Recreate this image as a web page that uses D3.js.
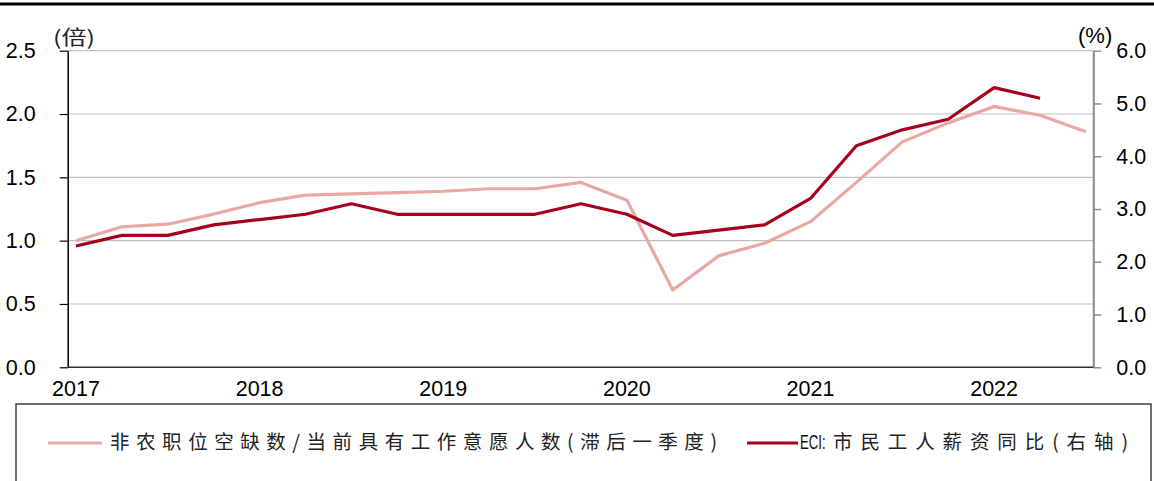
<!DOCTYPE html>
<html><head><meta charset="utf-8">
<script src="https://cdn.jsdelivr.net/npm/d3@7"></script>
<style>body{margin:0;background:#fff}svg{display:block}</style>
</head><body><svg id="c" width="1154" height="481"></svg>
<script>
const quarters = ["2017Q1","2017Q2","2017Q3","2017Q4","2018Q1","2018Q2","2018Q3","2018Q4","2019Q1","2019Q2","2019Q3","2019Q4","2020Q1","2020Q2","2020Q3","2020Q4","2021Q1","2021Q2","2021Q3","2021Q4","2022Q1","2022Q2","2022Q3"];
const yearTicks = ["2017","2018","2019","2020","2021","2022"];
const vacancyRatio = [1.00,1.11,1.13,1.21,1.30,1.36,1.37,1.38,1.39,1.41,1.41,1.46,1.32,0.61,0.88,0.98,1.15,1.46,1.78,1.93,2.06,1.99,1.86];
const eciYoY = [2.3,2.5,2.5,2.7,2.8,2.9,3.1,2.9,2.9,2.9,2.9,3.1,2.9,2.5,2.6,2.7,3.2,4.2,4.5,4.7,5.3,5.1];
const leftTicks = [0,0.5,1.0,1.5,2.0,2.5];
const rightTicks = [0,1,2,3,4,5,6];
const seriesNames = ["非农职位空缺数/当前具有工作意愿人数(滞后一季度)","ECI:市民工人薪资同比(右轴)"];
const colors = ["#E9A8A6","#A6001E"];

const svg = d3.select("#c");
const L = 67.7, R = 1093.3, T = 50.7, B = 367.3;
const x = d3.scaleLinear().domain([-0.18, 22.16]).range([L, R]);
const yL = d3.scaleLinear().domain([0, 2.5]).range([B, T]);
const yR = d3.scaleLinear().domain([0, 6]).range([B, T]);
const numFont = "'Liberation Sans', Arial, sans-serif";
const cjkFont = "'Noto Sans CJK SC', sans-serif";

// top border
svg.append("line").attr("x1",0).attr("x2",1154).attr("y1",4).attr("y2",4)
  .attr("stroke","#000").attr("stroke-width",3);

// gridlines
svg.append("g").selectAll("line").data(leftTicks.filter(d=>d>0)).join("line")
  .attr("x1",L).attr("x2",R).attr("y1",d=>yL(d)).attr("y2",d=>yL(d))
  .attr("stroke","#bfbfbf").attr("stroke-width",1.2);

// left axis
const gL = svg.append("g").attr("transform",`translate(${L},0)`)
  .call(d3.axisLeft(yL).tickValues(leftTicks).tickFormat(d3.format(".1f")).tickSizeInner(8).tickSizeOuter(0).tickPadding(24));
gL.select(".domain").attr("stroke","#000").attr("stroke-width",1.5);
gL.selectAll(".tick line").attr("stroke","#000").attr("stroke-width",1.2);
gL.selectAll(".tick text").attr("font-family",numFont).attr("font-size",21.5).attr("fill","#000");

// right axis
const gR = svg.append("g").attr("transform",`translate(${R},0)`)
  .call(d3.axisRight(yR).tickValues(rightTicks).tickFormat(d3.format(".1f")).tickSizeInner(8).tickSizeOuter(0).tickPadding(15));
gR.select(".domain").attr("stroke","#8c8c8c").attr("stroke-width",2);
gR.selectAll(".tick line").attr("stroke","#8c8c8c").attr("stroke-width",1.5);
gR.selectAll(".tick text").attr("font-family",numFont).attr("font-size",21.5).attr("fill","#000");

// bottom axis
svg.append("line").attr("x1",L).attr("x2",R).attr("y1",B).attr("y2",B)
  .attr("stroke","#333").attr("stroke-width",1.5);
svg.append("g").selectAll("text").data(yearTicks).join("text")
  .attr("x",d=>x(quarters.indexOf(d+"Q1"))).attr("y",B+29)
  .attr("text-anchor","middle").attr("font-family",numFont).attr("font-size",21.5).attr("fill","#000")
  .text(d=>d);

// units
svg.append("text").attr("x",53).attr("y",45).attr("font-family",cjkFont).attr("font-size",20)
  .attr("textLength",42).attr("lengthAdjust","spacingAndGlyphs").attr("fill","#222").text("(倍)");
svg.append("text").attr("x",1078).attr("y",43).attr("font-family",numFont).attr("font-size",22)
  .attr("fill","#000").text("(%)");

// lines
const lineL = d3.line().x((d,i)=>x(i)).y(d=>yL(d));
const lineR = d3.line().x((d,i)=>x(i)).y(d=>yR(d));
svg.append("path").datum(vacancyRatio).attr("d",lineL).attr("fill","none")
  .attr("stroke",colors[0]).attr("stroke-width",3.2).attr("stroke-linejoin","round");
svg.append("path").datum(eciYoY).attr("d",lineR).attr("fill","none")
  .attr("stroke",colors[1]).attr("stroke-width",3.2).attr("stroke-linejoin","round");

// legend
svg.append("rect").attr("x",16).attr("y",404).attr("width",1135).attr("height",100)
  .attr("fill","none").attr("stroke","#404040").attr("stroke-width",1.5);
// item 1
svg.append("line").attr("x1",48).attr("x2",102).attr("y1",443).attr("y2",443)
  .attr("stroke",colors[0]).attr("stroke-width",3.2);
svg.append("text").attr("x",110).attr("y",449).attr("font-family",cjkFont).attr("font-size",19.5)
  .attr("fill","#222").attr("textLength",607).attr("lengthAdjust","spacing").text(seriesNames[0]);
// item 2
svg.append("line").attr("x1",747).attr("x2",798).attr("y1",443).attr("y2",443)
  .attr("stroke",colors[1]).attr("stroke-width",3.2);
const eciPrefix = seriesNames[1].slice(0,4), eciRest = seriesNames[1].slice(4);
svg.append("text").attr("transform","translate(800,449) scale(0.66,1)").attr("font-family",numFont).attr("font-size",20)
  .attr("fill","#111").text(eciPrefix);
svg.append("text").attr("x",833).attr("y",449).attr("font-family",cjkFont).attr("font-size",19.5)
  .attr("fill","#222").attr("textLength",295).attr("lengthAdjust","spacing").text(eciRest);
</script></body></html>
